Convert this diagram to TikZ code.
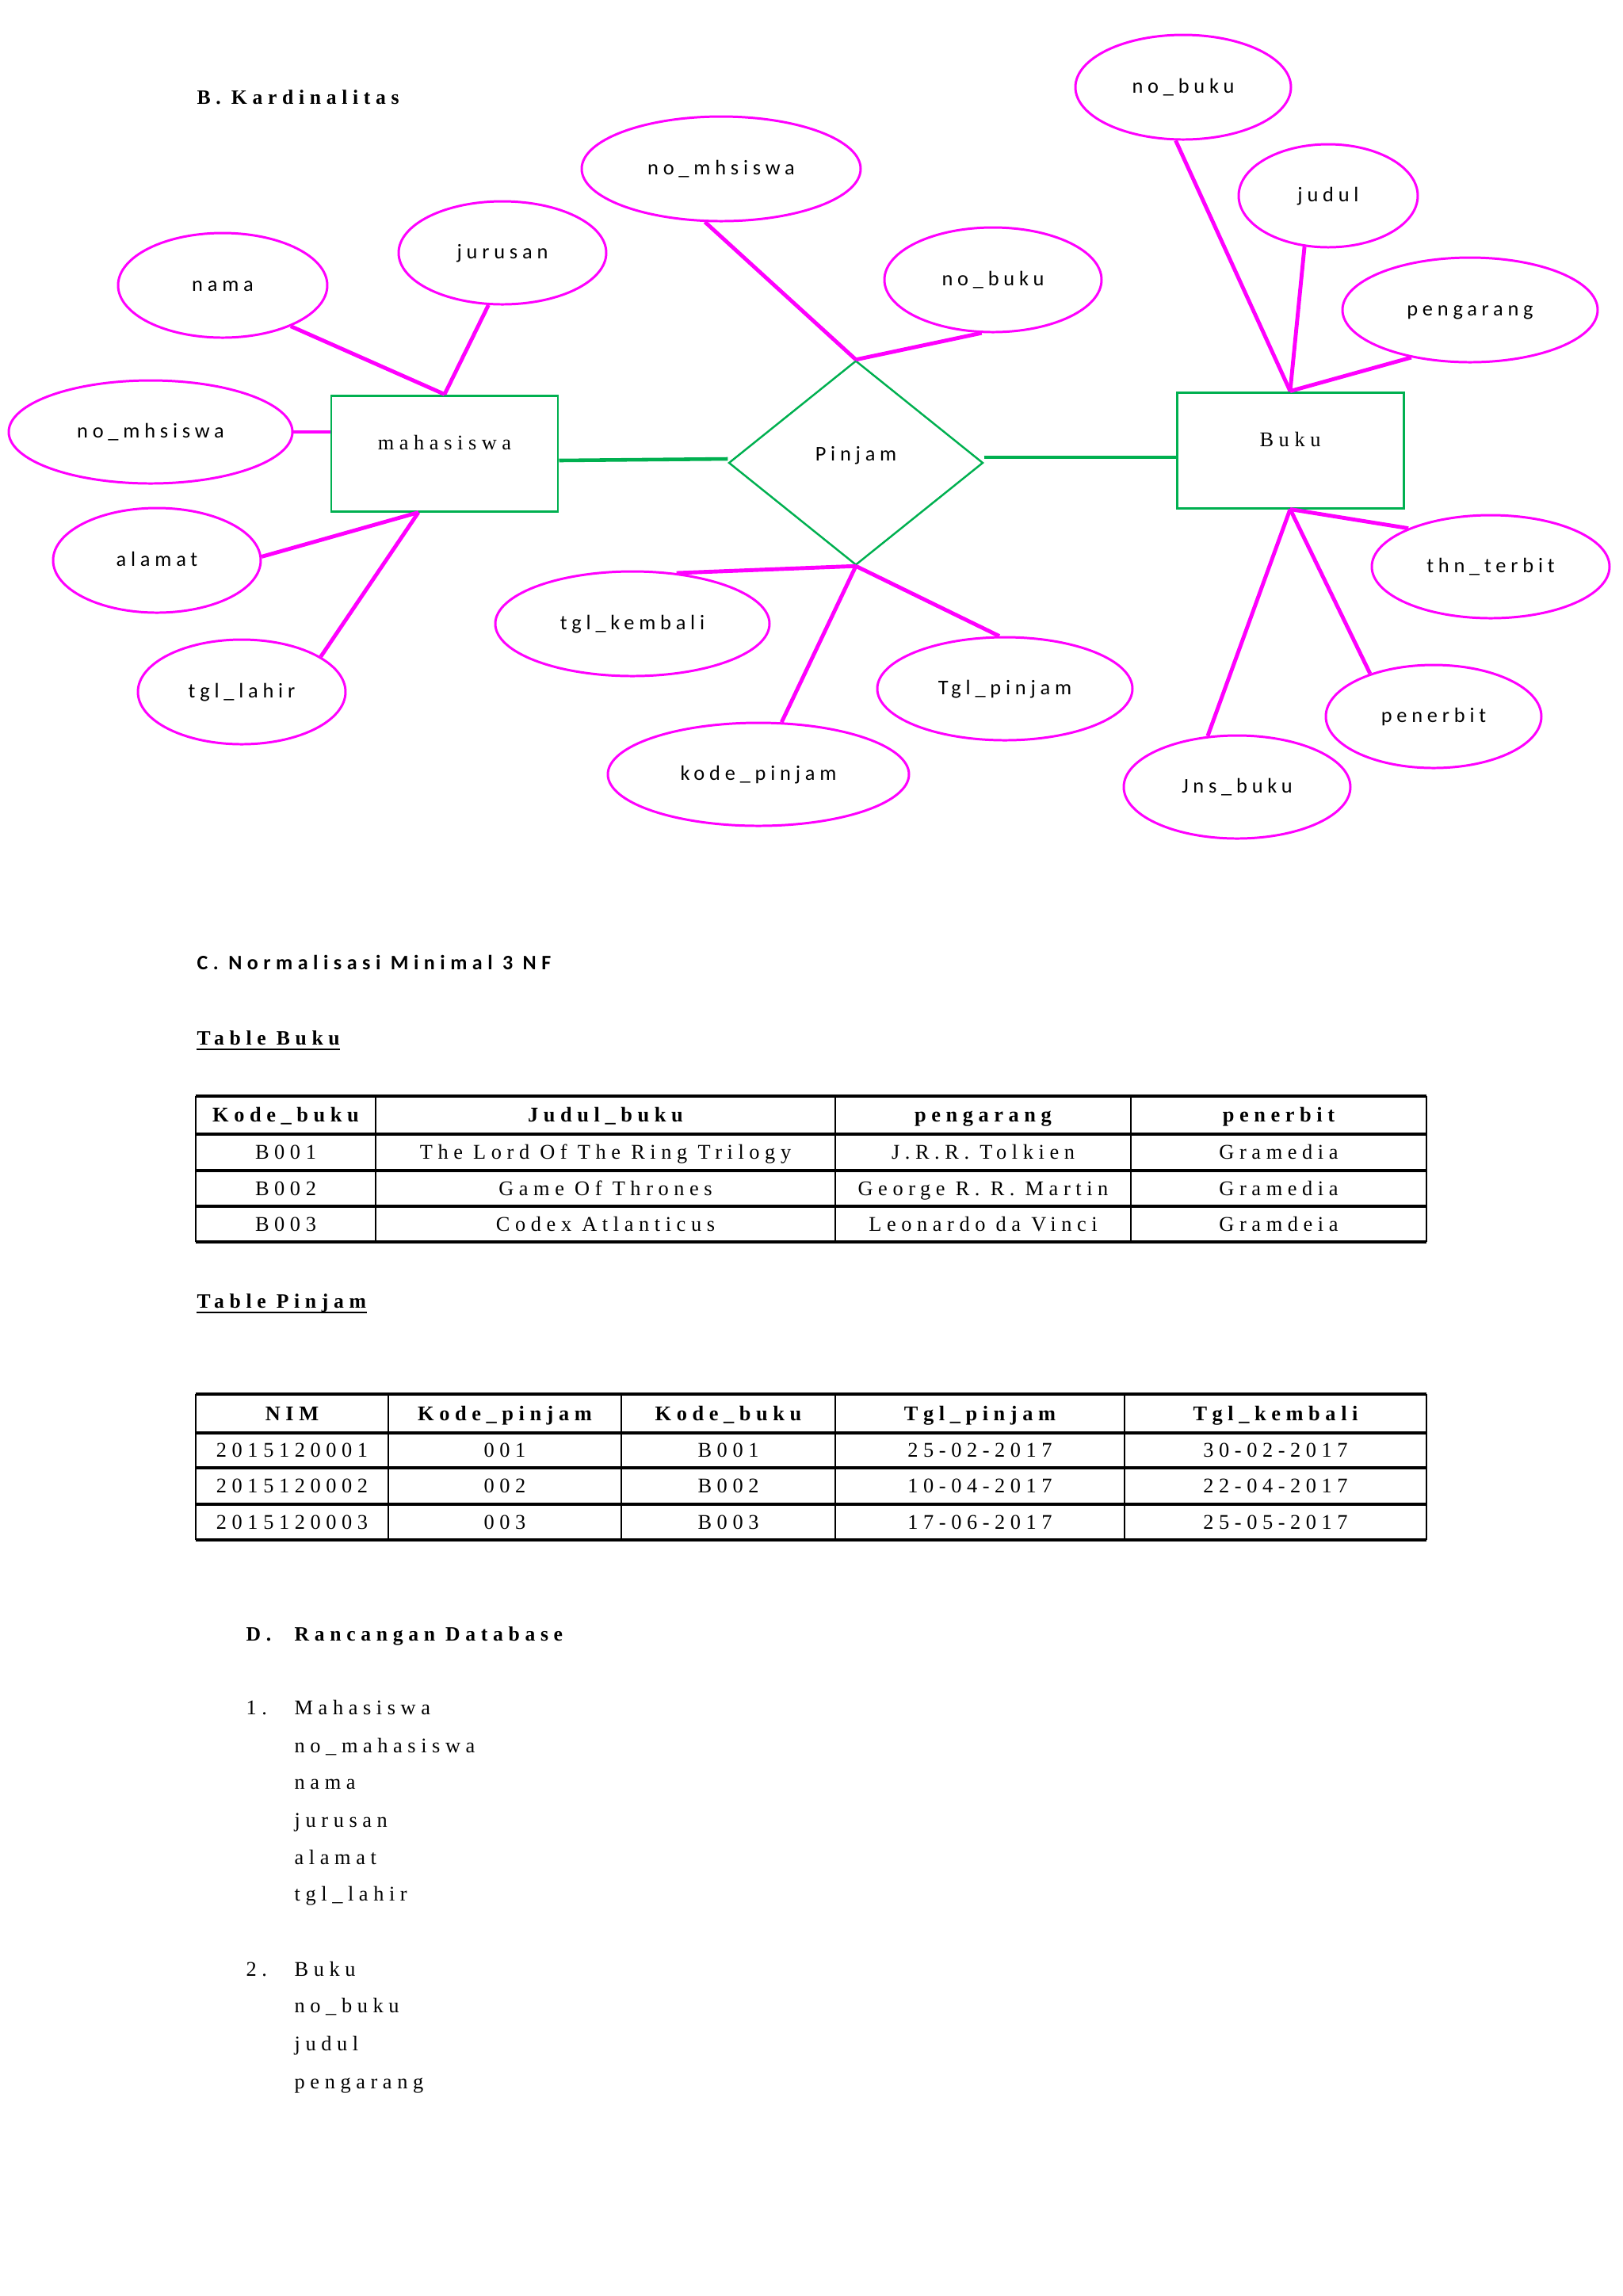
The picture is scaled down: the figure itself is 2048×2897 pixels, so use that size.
\documentclass[tikz,border=0pt]{standalone}
\usepackage{fontspec}
\setmainfont{Liberation Serif}
\newfontfamily\attrfont[LetterSpace=22]{Carlito}
\newfontfamily\entfont[LetterSpace=25]{Liberation Serif}
\newfontfamily\headfont[LetterSpace=26]{Liberation Serif}
\newfontfamily\headsans[LetterSpace=25]{Carlito}
\usetikzlibrary{shapes.geometric,calc}
\definecolor{mag}{RGB}{255,0,255}
\definecolor{erg}{RGB}{0,176,80}
\begin{document}
\begin{tikzpicture}[x=0.1mm,y=-0.1mm,
  attr/.style={ellipse, draw=mag, line width=0.85pt, inner sep=0pt, text height=1.5mm, text depth=0pt, font=\attrfont\fontsize{7.5}{9}\selectfont},
  ent/.style={rectangle, draw=erg, line width=0.85pt, inner sep=0pt, minimum width=28.6mm, minimum height=14.6mm, text height=1.8mm, text depth=2.8mm, font=\entfont\fontsize{7.5}{9}\selectfont},
  relsh/.style={diamond, draw=erg, line width=0.7pt, inner sep=0pt, minimum width=32.1mm, minimum height=25.8mm, text height=1.8mm, text depth=2.4mm, font=\attrfont\fontsize{7.5}{9}\selectfont},
  link/.style={draw=mag, line width=1.4pt},
  glink/.style={draw=erg, line width=1.3pt},
  hdB/.style={inner sep=0pt, anchor=base west, font=\headfont\bfseries\fontsize{7.3}{8.5}\selectfont},
  hdS/.style={inner sep=0pt, anchor=base west, font=\headsans\bfseries\fontsize{7.4}{8.5}\selectfont},
  lst/.style={inner sep=0pt, anchor=base west, font=\entfont\fontsize{7.5}{9}\selectfont},
  tcell/.style={inner sep=0pt, anchor=center, text height=1.75mm, text depth=0pt, font=\entfont\fontsize{7.5}{9}\selectfont},
  thead/.style={inner sep=0pt, anchor=center, text height=1.75mm, text depth=0pt, font=\entfont\bfseries\fontsize{7.5}{9}\selectfont},
  hline/.style={draw=black, line width=1.05pt},
  vline/.style={draw=black, line width=0.6pt},
  uline/.style={draw=black, line width=0.8pt}
]
\useasboundingbox (0,0) rectangle (2048,2897);
\fill[white] (0,0) rectangle (2048,2897);

% ---------- B. Kardinalitas ----------
\node[hdB] (hB) at (248,131) {B. Kardinalitas};

\node[ent] (mhs) at (561,572) {mahasiswa};
\node[ent] (buku) at (1628,568) {Buku};
\node[relsh] (pin) at (1080,584) {Pinjam};

\node[attr, minimum width=35.2mm, minimum height=13.2mm] (nmT) at (910,213) {no\_mhsiswa};
\node[attr, minimum width=26.2mm, minimum height=13.0mm] (jur) at (634,319) {jurusan};
\node[attr, minimum width=26.4mm, minimum height=13.2mm] (nama) at (281,360) {nama};
\node[attr, minimum width=35.8mm, minimum height=13.0mm] (nmL) at (190,545) {no\_mhsiswa};
\node[attr, minimum width=26.2mm, minimum height=13.2mm] (alamat) at (198,707) {alamat};
\node[attr, minimum width=26.2mm, minimum height=13.2mm] (tlahir) at (305,873) {tgl\_lahir};
\node[attr, minimum width=34.6mm, minimum height=13.2mm] (tkem) at (798,787) {tgl\_kembali};
\node[attr, minimum width=38.0mm, minimum height=13.0mm] (kode) at (957,977) {kode\_pinjam};
\node[attr, minimum width=27.4mm, minimum height=13.2mm] (nbM) at (1253,353) {no\_buku};
\node[attr, minimum width=32.2mm, minimum height=13.0mm] (tpin) at (1268,869) {Tgl\_pinjam};
\node[attr, minimum width=27.2mm, minimum height=13.2mm] (nbT) at (1493,110) {no\_buku};
\node[attr, minimum width=22.6mm, minimum height=13.0mm] (jud) at (1676,247) {judul};
\node[attr, minimum width=32.2mm, minimum height=13.2mm] (peng) at (1855,391) {pengarang};
\node[attr, minimum width=30.0mm, minimum height=13.0mm] (thn) at (1881,715) {thn\_terbit};
\node[attr, minimum width=27.2mm, minimum height=13.0mm] (pen) at (1809,904) {penerbit};
\node[attr, minimum width=28.6mm, minimum height=13.0mm] (jns) at (1561,993) {Jns\_buku};

\coordinate (mB) at ($(mhs.south)+(-33,0)$);
\draw[link] (nama.-31) -- (mhs.north);
\draw[link] (jur.-105) -- (mhs.north);
\draw[link] (nmL.east) -- (nmL.east -| mhs.west);
\draw[link] (alamat.2) -- (mB);
\draw[link] (tlahir.24) -- (mB);
\draw[glink] ($(mhs.east)+(0,9)$) -- ($(pin.west)+(0,-5)$);
\draw[link] (nmT.-107) -- (pin.north);
\draw[link] (nbM.-102) -- (pin.north);
\draw[link] (tkem.49) -- (pin.south);
\draw[link] (kode.66) -- (pin.south);
\draw[link] (tpin.96) -- (pin.south);
\draw[glink] ($(pin.east)+(0,-7)$) -- ($(buku.west)+(0,9)$);
\draw[link] (nbT.-98) -- (buku.north);
\draw[link] (jud.-115) -- (buku.north);
\draw[link] (peng.-141) -- (buku.north);
\draw[link] (thn.155) -- (buku.south);
\draw[link] (pen.146) -- (buku.south);
\draw[link] (jns.120) -- (buku.south);

% ---------- C. Normalisasi ----------
\node[hdS] (hC) at (248,1223) {C. Normalisasi Minimal 3 NF};

\node[hdB] (tB) at (248,1318) {Table Buku};
\draw[uline] ($(tB.base west)+(0,6)$) -- ($(tB.base east)+(0,6)$);

\foreach \y in {1383,1431,1477,1522,1567} \draw[hline] (247,\y) -- (1800,\y);
\foreach \x in {247,474,1054,1427,1800} \draw[vline] (\x,1383) -- (\x,1567);

\node[thead] (b00) at (360.5,1407) {Kode\_buku};
\node[thead] (b01) at (764,1407) {Judul\_buku};
\node[thead] (b02) at (1240.5,1407) {pengarang};
\node[thead] (b03) at (1613.5,1407) {penerbit};
\node[tcell] (b10) at (360.5,1454) {B001};
\node[tcell] (b11) at (764,1454) {The Lord Of The Ring Trilogy};
\node[tcell] (b12) at (1240.5,1454) {J.R.R. Tolkien};
\node[tcell] (b13) at (1613.5,1454) {Gramedia};
\node[tcell] (b20) at (360.5,1499.5) {B002};
\node[tcell] (b21) at (764,1499.5) {Game Of Thrones};
\node[tcell] (b22) at (1240.5,1499.5) {George R. R. Martin};
\node[tcell] (b23) at (1613.5,1499.5) {Gramedia};
\node[tcell] (b30) at (360.5,1544.5) {B003};
\node[tcell] (b31) at (764,1544.5) {Codex Atlanticus};
\node[tcell] (b32) at (1240.5,1544.5) {Leonardo da Vinci};
\node[tcell] (b33) at (1613.5,1544.5) {Gramdeia};

\node[hdB] (tP) at (248,1650) {Table Pinjam\ };
\draw[uline] ($(tP.base west)+(0,6)$) -- ($(tP.base east)+(0,6)$);

\foreach \y in {1759,1808,1852,1898,1943} \draw[hline] (247,\y) -- (1800,\y);
\foreach \x in {247,490,784,1054,1419,1800} \draw[vline] (\x,1759) -- (\x,1943);

\node[thead] (p00) at (368.5,1783.5) {NIM};
\node[thead] (p01) at (637,1783.5) {Kode\_pinjam};
\node[thead] (p02) at (919,1783.5) {Kode\_buku};
\node[thead] (p03) at (1236.5,1783.5) {Tgl\_pinjam};
\node[thead] (p04) at (1609.5,1783.5) {Tgl\_kembali};
\node[tcell] (p10) at (368.5,1830) {2015120001};
\node[tcell] (p11) at (637,1830) {001};
\node[tcell] (p12) at (919,1830) {B001};
\node[tcell] (p13) at (1236.5,1830) {25-02-2017};
\node[tcell] (p14) at (1609.5,1830) {30-02-2017};
\node[tcell] (p20) at (368.5,1875) {2015120002};
\node[tcell] (p21) at (637,1875) {002};
\node[tcell] (p22) at (919,1875) {B002};
\node[tcell] (p23) at (1236.5,1875) {10-04-2017};
\node[tcell] (p24) at (1609.5,1875) {22-04-2017};
\node[tcell] (p30) at (368.5,1920.5) {2015120003};
\node[tcell] (p31) at (637,1920.5) {003};
\node[tcell] (p32) at (919,1920.5) {B003};
\node[tcell] (p33) at (1236.5,1920.5) {17-06-2017};
\node[tcell] (p34) at (1609.5,1920.5) {25-05-2017};

% ---------- D. Rancangan Database ----------
\node[hdB] (hD) at (310,2070) {D.};
\node[hdB] (hD2) at (371,2070) {Rancangan Database};

\node[lst] (n1) at (310,2163) {1.};
\node[lst] (l1) at (371,2163) {Mahasiswa};
\node[lst] (l2) at (371,2211) {no\_mahasiswa};
\node[lst] (l3) at (371,2257) {nama};
\node[lst] (l4) at (371,2305) {jurusan};
\node[lst] (l5) at (371,2352) {alamat};
\node[lst] (l6) at (371,2398) {tgl\_lahir};

\node[lst] (n2) at (310,2493) {2.};
\node[lst] (k1) at (371,2493) {Buku};
\node[lst] (k2) at (371,2539) {no\_buku};
\node[lst] (k3) at (371,2587) {judul};
\node[lst] (k4) at (371,2635) {pengarang};
\end{tikzpicture}
\end{document}
